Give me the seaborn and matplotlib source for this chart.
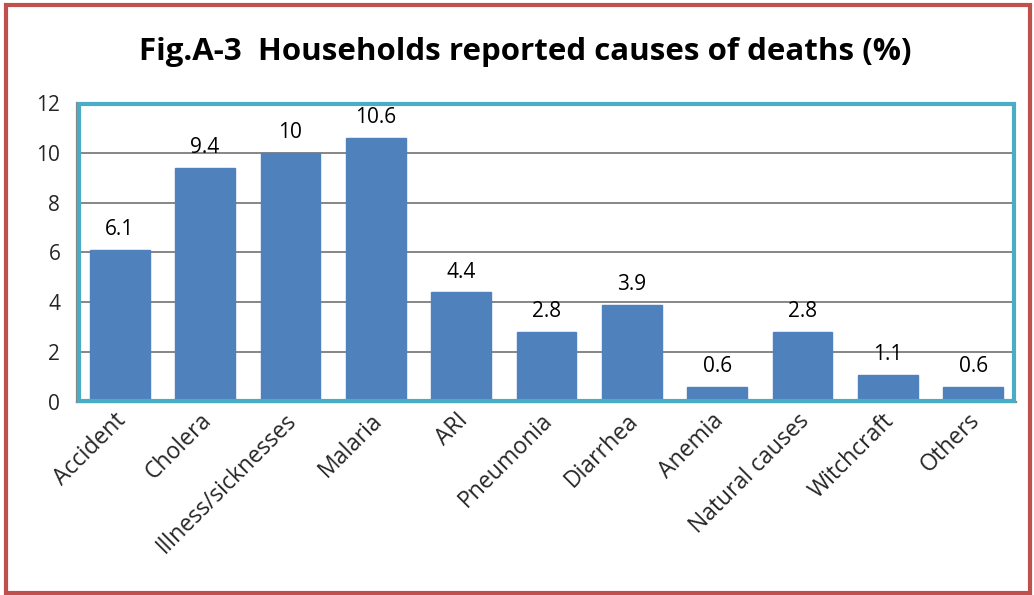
import matplotlib
matplotlib.use('Agg')
import matplotlib.pyplot as plt
import seaborn as sns
import pandas as pd
from matplotlib.patches import Rectangle
from matplotlib.transforms import ScaledTranslation

causes = ['Accident', 'Cholera', 'Illness/sicknesses', 'Malaria', 'ARI', 'Pneumonia',
          'Diarrhea', 'Anemia', 'Natural causes', 'Witchcraft', 'Others']
percent = [6.1, 9.4, 10, 10.6, 4.4, 2.8, 3.9, 0.6, 2.8, 1.1, 0.6]
value_labels = ['6.1', '9.4', '10', '10.6', '4.4', '2.8', '3.9', '0.6', '2.8', '1.1', '0.6']
title = 'Fig.A-3  Households reported causes of deaths (%)'

sns.set_style('white')
plt.rcParams['font.family'] = ['Open Sans', 'DejaVu Sans']

df = pd.DataFrame({'cause': causes, 'pct': percent})

fig = plt.figure(figsize=(10.34, 5.95), dpi=100)
ax = fig.add_axes([0.0745, 0.3244, 0.9081, 0.5025])

sns.barplot(data=df, x='cause', y='pct', color='#4F81BD', saturation=1, width=0.7,
            edgecolor='#4F81BD', ax=ax, zorder=3)

ax.set_ylim(0, 12)
ax.set_xlim(-0.5, len(causes) - 0.5)
ax.set_yticks(range(0, 13, 2))
ax.yaxis.grid(True, color='#868686', linewidth=1.4, zorder=1)
ax.set_axisbelow(True)
ax.set_xlabel('')
ax.set_ylabel('')

# value labels above bars
for i, (v, lab) in enumerate(zip(percent, value_labels)):
    ax.annotate(lab, (i, v), xytext=(0, 7), textcoords='offset points',
                ha='center', va='bottom', fontsize=15, color='black')

# category boundary ticks on x-axis
ax.set_xticks([i - 0.5 for i in range(len(causes) + 1)], minor=True)
ax.tick_params(axis='x', which='minor', length=7, width=1.4, color='#868686', direction='out')
ax.tick_params(axis='x', which='major', length=0, pad=5)
ax.tick_params(axis='y', length=7, width=1.4, color='#868686', direction='out', labelsize=15, pad=5)
ax.set_xticks(range(len(causes)))
ax.set_xticklabels(causes, rotation=45, ha='right', rotation_mode='anchor', fontsize=16.5)
shift = ScaledTranslation(-4 / 72, 0, fig.dpi_scale_trans)
for lbl in ax.get_xticklabels():
    lbl.set_transform(lbl.get_transform() + shift)

for side in ['top', 'right']:
    ax.spines[side].set_visible(False)
for side in ['left', 'bottom']:
    ax.spines[side].set_color('#868686')
    ax.spines[side].set_linewidth(1.6)

# cyan plot area border
ax.add_patch(Rectangle((0.002, 0.004), 0.996, 0.994, transform=ax.transAxes, fill=False,
                       edgecolor='#4BACC6', linewidth=3, clip_on=False, zorder=5))

fig.text(0.508, 0.913, title, ha='center', va='center', fontsize=22.5, fontweight='bold',
         color='black')

# outer red border
fig.patches.append(Rectangle((0.006, 0.003), 0.99, 0.988, transform=fig.transFigure,
                             fill=False, edgecolor='#C0504D', linewidth=3, figure=fig))

fig.savefig('out.png', dpi=100)
